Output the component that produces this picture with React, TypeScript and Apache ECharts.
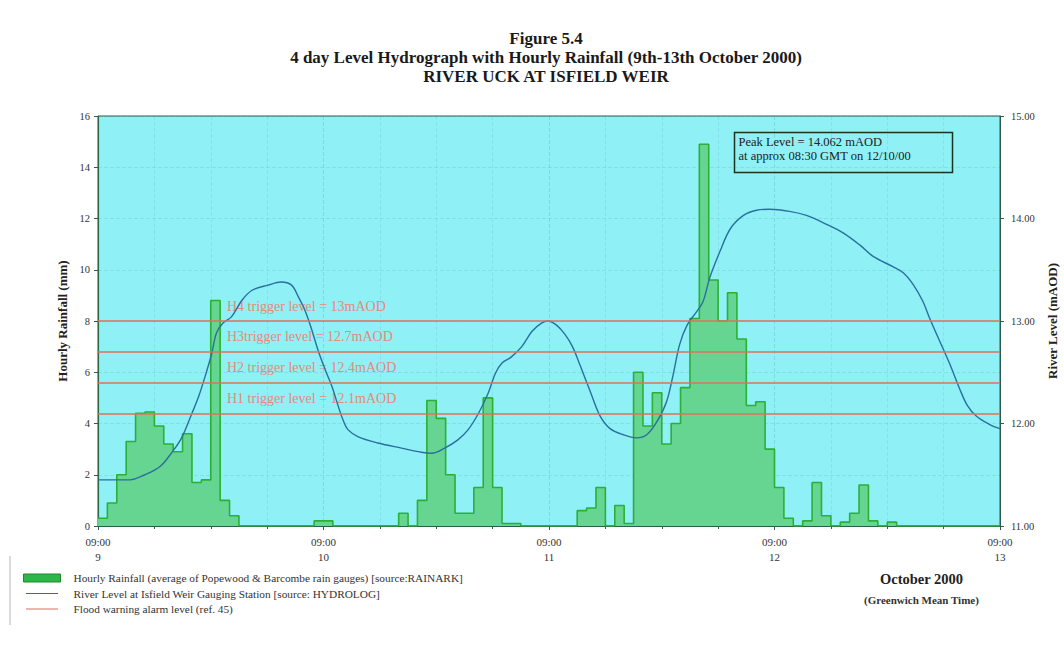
import { useEffect, useRef } from 'react';
import * as echarts from 'echarts';

// Hours after 09:00 GMT on 9 Oct 2000; tick labels every 24 h
const dayNumbers = ['9', '10', '11', '12', '13'];
const tickTime = '09:00';

// Hourly rainfall (mm), one value per hour starting 09:00 on the 9th
const rainfall = [
  0.3, 0.9, 2.0, 3.3, 4.4, 4.45, 3.9, 3.2, 2.9, 3.6, 1.7, 1.8, 8.8, 1.0, 0.4, 0,
  0, 0, 0, 0, 0, 0, 0, 0.2, 0.2, 0, 0, 0, 0, 0, 0, 0,
  0.5, 0, 1.0, 4.9, 4.2, 2.0, 0.5, 0.5, 1.5, 5.0, 1.5, 0.1, 0.1, 0, 0, 0,
  0, 0, 0, 0.6, 0.7, 1.5, 0, 0.8, 0.1, 6.0, 3.9, 5.2, 3.2, 4.0, 5.4, 8.1,
  14.9, 9.6, 8.0, 9.1, 7.3, 4.7, 4.85, 3.0, 1.5, 0.3, 0, 0.2, 1.7, 0.4, 0, 0.15,
  0.5, 1.6, 0.2, 0, 0.15, 0, 0, 0, 0, 0, 0, 0, 0, 0, 0, 0,
];

// River level at Isfield Weir (mAOD)
const levelHours = [
  0, 3.4, 5.0, 6.6, 7.8, 8.9, 10.0, 10.7, 11.4, 12.1, 12.6, 13.3, 14.2, 15.3, 16.4, 18.1,
  19.5, 20.6, 21.3, 22.0, 22.7, 23.4, 24.2, 24.9, 25.6, 26.1, 26.6, 27.7, 29.8, 32.3, 34.4, 35.5,
  36.9, 38.3, 39.4, 40.5, 41.5, 42.3, 43.0, 44.0, 45.1, 46.2, 47.2, 47.9, 48.8, 49.7, 50.5, 51.3,
  52.4, 53.4, 54.5, 55.9, 57.3, 58.4, 59.5, 60.5, 61.2, 61.9, 62.7, 63.7, 64.4, 65.1, 66.2, 67.3,
  68.7, 70.1, 71.5, 73.6, 75.4, 77.6, 79.3, 81.1, 82.5, 84.6, 85.7, 86.8, 87.8, 88.5, 89.6, 90.7,
  91.7, 92.5, 93.5, 94.9, 96.0,
];
const levelValues = [
  11.45, 11.45, 11.5, 11.58, 11.71, 11.86, 12.1, 12.26, 12.46, 12.68, 12.88, 12.98, 13.04, 13.2, 13.3, 13.35,
  13.38, 13.35, 13.24, 13.11, 12.93, 12.72, 12.52, 12.36, 12.16, 12.03, 11.94, 11.87, 11.81, 11.76, 11.72, 11.71,
  11.76, 11.84, 11.94, 12.1, 12.29, 12.49, 12.59, 12.65, 12.75, 12.9, 12.98, 13.0, 12.96, 12.87, 12.75, 12.57,
  12.31, 12.08, 11.95, 11.89, 11.86, 11.89, 12.02, 12.21, 12.47, 12.77, 12.96, 13.09, 13.19, 13.42, 13.68, 13.9,
  14.03, 14.08, 14.09, 14.07, 14.03, 13.94, 13.86, 13.74, 13.63, 13.53, 13.47, 13.35, 13.19, 13.03, 12.8, 12.57,
  12.34, 12.18, 12.07, 11.99, 11.95,
];

const triggerLevels = [13.0, 12.7, 12.4, 12.1];
const triggerLabels = [
  'H4 trigger level = 13mAOD',
  'H3trigger level = 12.7mAOD',
  'H2 trigger level = 12.4mAOD',
  'H1 trigger level = 12.1mAOD',
];

const rainName = 'Hourly Rainfall (average of Popewood & Barcombe rain gauges) [source:RAINARK]';
const levelName = 'River Level at Isfield Weir Gauging Station [source: HYDROLOG]';
const alarmName = 'Flood warning alarm level (ref. 45)';

const SERIF = '"Liberation Serif", "DejaVu Serif", serif';
const GRID = { left: 98, top: 116, width: 902, height: 410 };
const LEVEL_MIN = 11;
const LEVEL_MAX = 15;

export default function App() {
  const ref = useRef<HTMLDivElement>(null);

  useEffect(() => {
    if (!ref.current) return;
    const chart = echarts.init(ref.current, null, { renderer: 'svg' });

    const rainData: number[][] = rainfall.map((v, i) => [i, v]);
    rainData.push([rainfall.length, 0]);
    const levelData = levelHours.map((h, i) => [h, levelValues[i]]);

    const lineIcon = 'path://M0,0 L0.01,0 L0.01,0.01 Z M0,4.4 L40,4.4 L40,5.6 L0,5.6 Z M0,10 L0.01,10 L0.01,10.01 Z';

    const triggerTexts = triggerLevels.map((lv, i) => ({
      type: 'text',
      left: 227,
      top: GRID.top + (GRID.height * (LEVEL_MAX - lv)) / (LEVEL_MAX - LEVEL_MIN) - 22,
      silent: true,
      z: 1,
      style: {
        text: triggerLabels[i],
        fill: '#e8897a',
        font: `14px ${SERIF}`,
      },
    }));

    chart.setOption({
      animation: false,
      backgroundColor: '#ffffff',
      title: {
        text: 'Figure 5.4\n4 day Level Hydrograph with Hourly Rainfall (9th-13th October 2000)\nRIVER UCK AT ISFIELD WEIR',
        left: 541,
        textAlign: 'center',
        top: 24,
        textStyle: {
          fontFamily: SERIF,
          fontSize: 17,
          fontWeight: 'bold',
          lineHeight: 19,
          color: '#1a1a1a',
        },
      },
      grid: {
        ...GRID,
        outerBoundsMode: 'none',
        containLabel: false,
        show: true,
        backgroundColor: '#8ff0f6',
        borderColor: '#2f5a4a',
        borderWidth: 1,
      },
      legend: {
        orient: 'vertical',
        left: 18,
        top: 567,
        itemWidth: 37,
        itemHeight: 8,
        itemGap: 3.5,
        textStyle: { fontFamily: SERIF, fontSize: 11.3, lineHeight: 12, color: '#333', padding: [0, 0, 0, 8] },
        data: [
          { name: rainName, icon: 'rect', itemStyle: { color: '#2fb64a', borderColor: '#1f8a2a', borderWidth: 1 } },
          { name: levelName, icon: lineIcon },
          { name: alarmName, icon: lineIcon },
        ],
      },
      xAxis: {
        type: 'value',
        min: 0,
        max: 96,
        interval: 24,
        axisLine: { show: true, lineStyle: { color: '#2f5a4a', width: 1 } },
        axisTick: { show: true, length: 4, lineStyle: { color: '#2f5a4a' } },
        minorTick: { show: true, splitNumber: 4, length: 3, lineStyle: { color: '#2f5a4a' } },
        splitLine: { show: true, lineStyle: { color: 'rgba(30,90,80,0.15)', type: 'dashed' } },
        minorSplitLine: { show: true, lineStyle: { color: 'rgba(30,90,80,0.09)', type: 'dashed' } },
        axisLabel: {
          fontFamily: SERIF,
          fontSize: 11,
          color: '#333',
          lineHeight: 15,
          margin: 8,
          formatter: (v: number) => `${tickTime}\n${dayNumbers[Math.round(v / 24)]}`,
        },
      },
      yAxis: [
        {
          type: 'value',
          min: 0,
          max: 16,
          interval: 2,
          name: 'Hourly Rainfall (mm)',
          nameLocation: 'middle',
          nameGap: 29,
          nameRotate: 90,
          nameTextStyle: { fontFamily: SERIF, fontSize: 13, fontWeight: 'bold', color: '#222' },
          axisLine: { show: true, lineStyle: { color: '#2f6a4a', width: 1.2 } },
          axisTick: { show: true, inside: false, length: 4, lineStyle: { color: '#2f5a4a' } },
          splitLine: { show: true, lineStyle: { color: 'rgba(30,90,80,0.1)', type: 'dashed' } },
          axisLabel: { fontFamily: SERIF, fontSize: 10.5, color: '#333', margin: 8 },
        },
        {
          type: 'value',
          min: LEVEL_MIN,
          max: LEVEL_MAX,
          interval: 1,
          position: 'right',
          name: 'River Level (mAOD)',
          nameLocation: 'middle',
          nameGap: 44,
          nameRotate: 90,
          nameTextStyle: { fontFamily: SERIF, fontSize: 13, fontWeight: 'bold', color: '#222' },
          axisLine: { show: true, lineStyle: { color: '#2f5a4a', width: 1 } },
          axisTick: { show: true, length: 4, lineStyle: { color: '#2f5a4a' } },
          splitLine: { show: false },
          axisLabel: {
            fontFamily: SERIF,
            fontSize: 10.5,
            color: '#333',
            margin: 11,
            formatter: (v: number) => v.toFixed(2),
          },
        },
      ],
      series: [
        {
          name: rainName,
          type: 'line',
          yAxisIndex: 0,
          step: 'end',
          showSymbol: false,
          symbol: 'none',
          data: rainData,
          lineStyle: { color: '#2bb036', width: 1.6 },
          itemStyle: { color: '#2fb64a' },
          areaStyle: { color: '#66d592', opacity: 1 },
          z: 2,
        },
        {
          name: alarmName,
          type: 'line',
          yAxisIndex: 1,
          data: [],
          itemStyle: { color: '#e0705a' },
          lineStyle: { color: '#e0705a' },
          markLine: {
            silent: true,
            symbol: ['none', 'none'],
            label: { show: false },
            lineStyle: { color: '#e0705a', width: 1.6, type: 'solid' },
            data: triggerLevels.map((lv) => ({ yAxis: lv })),
          },
          z: 3,
        },
        {
          name: levelName,
          type: 'line',
          yAxisIndex: 1,
          smooth: 0.35,
          showSymbol: false,
          symbol: 'none',
          data: levelData,
          lineStyle: { color: '#2a6f9e', width: 1.4 },
          itemStyle: { color: '#2a6f9e' },
          z: 4,
        },
      ],
      graphic: [
        ...triggerTexts,
        {
          type: 'group',
          left: 732,
          top: 130,
          children: [
            {
              type: 'rect',
              shape: { x: 0, y: 0, width: 218, height: 40 },
              style: { fill: 'none', stroke: '#1c3322', lineWidth: 1.5 },
            },
            {
              type: 'text',
              x: 4,
              y: 3,
              style: { text: 'Peak Level = 14.062 mAOD', fill: '#222', font: `12.5px ${SERIF}` },
            },
            {
              type: 'text',
              x: 4,
              y: 17,
              style: { text: 'at approx 08:30 GMT on 12/10/00', fill: '#222', font: `12.5px ${SERIF}` },
            },
          ],
        },
        {
          type: 'text',
          left: 880,
          top: 571,
          style: { text: 'October 2000', fill: '#222', font: `bold 14.5px ${SERIF}` },
        },
        {
          type: 'text',
          left: 864,
          top: 594,
          style: { text: '(Greenwich Mean Time)', fill: '#333', font: `bold 11px ${SERIF}` },
        },
        {
          type: 'line',
          silent: true,
          shape: { x1: 10, y1: 556, x2: 10, y2: 625 },
          style: { stroke: '#cfcfcf', lineWidth: 1.5 },
        },
      ],
    });

    return () => chart.dispose();
  }, []);

  return (
    <div
      ref={ref}
      style={{ position: 'fixed', left: 0, top: 0, width: 1064, height: 661, background: '#fff' }}
    />
  );
}
